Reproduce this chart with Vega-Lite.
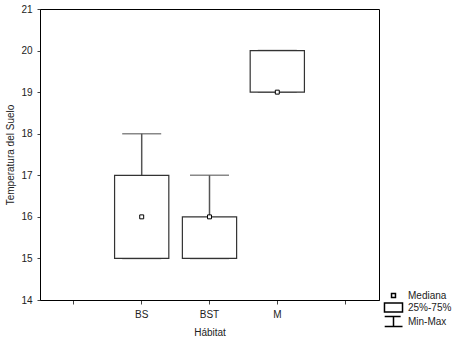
{
  "$schema": "https://vega.github.io/schema/vega-lite/v6.json",
  "autosize": "none",
  "padding": {"left": 40, "top": 9, "right": 79, "bottom": 44},
  "width": 339,
  "height": 291,
  "background": "white",
  "config": {
    "font": "Liberation Sans",
    "view": {"stroke": "#000", "strokeWidth": 1},
    "axis": {
      "labelFont": "Liberation Sans",
      "titleFont": "Liberation Sans",
      "labelFontSize": 10,
      "titleFontSize": 10,
      "titleFontWeight": "normal",
      "labelColor": "#222",
      "titleColor": "#222",
      "domainColor": "#000",
      "tickColor": "#444",
      "grid": false
    },
    "legend": {
      "labelFont": "Liberation Sans",
      "labelFontSize": 10,
      "labelColor": "#222"
    }
  },
  "data": {
    "values": [
      {"habitat": "BS", "min": 15, "q1": 15, "median": 16, "q3": 17, "max": 18, "leg": "Mediana"},
      {"habitat": "BST", "min": 15, "q1": 15, "median": 16, "q3": 16, "max": 17, "leg": "Mediana"},
      {"habitat": "M", "min": 19, "q1": 19, "median": 19, "q3": 20, "max": 20, "leg": "Mediana"}
    ]
  },
  "encoding": {
    "x": {
      "field": "habitat",
      "type": "nominal",
      "scale": {"domain": ["_a", "BS", "BST", "M", "_b"], "paddingInner": 0, "paddingOuter": 0},
      "axis": {
        "title": "Hábitat",
        "labelAngle": 0,
        "tickSize": 4,
        "labelPadding": 5,
        "titlePadding": 8,
        "labelExpr": "indexof(['BS','BST','M'], datum.value) >= 0 ? datum.value : ''"
      }
    }
  },
  "layer": [
    {
      "mark": {"type": "rule", "color": "#555", "strokeWidth": 1.5},
      "encoding": {
        "y": {
          "field": "q3",
          "type": "quantitative",
          "scale": {"domain": [14, 21], "nice": false, "zero": false},
          "axis": {
            "title": "Temperatura del Suelo",
            "values": [14, 15, 16, 17, 18, 19, 20, 21],
            "tickSize": 3,
            "labelPadding": 5,
            "titlePadding": 5
          }
        },
        "y2": {"field": "max"}
      }
    },
    {
      "mark": {"type": "rule", "color": "#555", "strokeWidth": 1.5},
      "encoding": {
        "y": {"field": "min", "type": "quantitative"},
        "y2": {"field": "q1"}
      }
    },
    {
      "mark": {"type": "tick", "color": "#555", "thickness": 1.5, "size": 39},
      "encoding": {"y": {"field": "max", "type": "quantitative"}}
    },
    {
      "mark": {"type": "tick", "color": "#555", "thickness": 1.5, "size": 39},
      "encoding": {"y": {"field": "min", "type": "quantitative"}}
    },
    {
      "mark": {"type": "bar", "fill": "white", "stroke": "#333", "strokeWidth": 1.2, "width": {"band": 0.8}},
      "encoding": {
        "y": {"field": "q1", "type": "quantitative"},
        "y2": {"field": "q3"}
      }
    },
    {
      "mark": {"type": "point", "filled": true, "fill": "white", "stroke": "#000", "strokeWidth": 1, "size": 121, "opacity": 1},
      "encoding": {
        "y": {"field": "median", "type": "quantitative"},
        "shape": {
          "field": "leg",
          "type": "nominal",
          "scale": {
            "domain": ["Mediana", "25%-75%", "Min-Max"],
            "range": [
              "M-0.36,-0.36L0.36,-0.36L0.36,0.36L-0.36,0.36Z",
              "M-1.64,-0.8L1.64,-0.8L1.64,0.8L-1.64,0.8Z",
              "M-1.6,-0.9L1.3,-0.9M0,-0.9L0,0.9M-1.6,0.9L1.64,0.9"
            ]
          },
          "legend": {
            "title": null,
            "orient": "none",
            "legendX": 347,
            "legendY": 280,
            "symbolSize": 121,
            "labelOffset": 8,
            "rowPadding": -2.5,
            "padding": 0,
            "encode": {
              "symbols": {
                "update": {
                  "shape": {"signal": "datum.value === 'Mediana' ? 'M-0.36,-0.36L0.36,-0.36L0.36,0.36L-0.36,0.36Z' : datum.value === '25%-75%' ? 'M-1.64,-0.8L1.64,-0.8L1.64,0.8L-1.64,0.8Z' : 'M-1.6,-0.9L1.3,-0.9M0,-0.9L0,0.9M-1.6,0.9L1.64,0.9'"},
                  "size": {"value": 121},
                  "stroke": {"value": "#000"},
                  "fill": {"value": "white"},
                  "strokeWidth": {"value": 1}
                }
              }
            }
          }
        }
      }
    }
  ]
}
